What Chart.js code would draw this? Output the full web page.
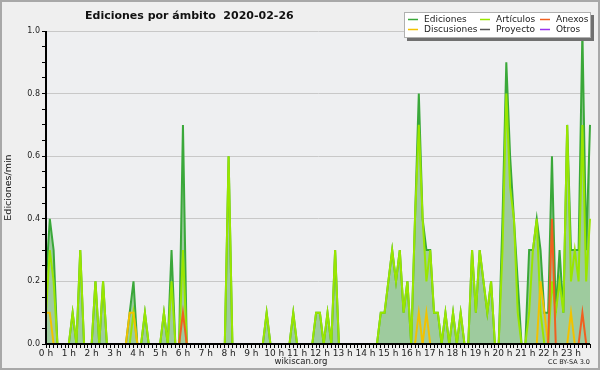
<!DOCTYPE html>
<html>
<head>
<meta charset="utf-8">
<script src="https://cdn.jsdelivr.net/npm/chart.js@4.4.0/dist/chart.umd.min.js"></script>
<style>
  html, body { margin: 0; padding: 0; background: #f0f0f0; }
  #wrap { width: 600px; height: 370px; }
</style>
</head>
<body>
<div id="wrap"><canvas id="chart" width="600" height="370"></canvas></div>
<script>
// one value every 10 minutes, 2 hours per row
const ediciones = [
  0.2, 0.4, 0.3, 0, 0, 0, 0, 0.1, 0, 0.3, 0, 0,
  0, 0.2, 0, 0.2, 0, 0, 0, 0, 0, 0, 0.1, 0.2,
  0, 0, 0.1, 0, 0, 0, 0, 0.1, 0, 0.3, 0, 0,
  0.7, 0, 0, 0, 0, 0, 0, 0, 0, 0, 0, 0,
  0.6, 0, 0, 0, 0, 0, 0, 0, 0, 0, 0.1, 0,
  0, 0, 0, 0, 0, 0.1, 0, 0, 0, 0, 0, 0.1,
  0.1, 0, 0.1, 0, 0.3, 0, 0, 0, 0, 0, 0, 0,
  0, 0, 0, 0, 0.1, 0.1, 0.2, 0.3, 0.2, 0.3, 0.1, 0.2,
  0, 0.4, 0.8, 0.4, 0.3, 0.3, 0.1, 0.1, 0, 0.1, 0, 0.1,
  0, 0.1, 0, 0, 0.3, 0.1, 0.3, 0.2, 0.1, 0.2, 0, 0,
  0.4, 0.9, 0.6, 0.4, 0.2, 0, 0, 0.3, 0.3, 0.4, 0.3, 0.1,
  0.1, 0.6, 0.1, 0.3, 0.1, 0.7, 0.3, 0.3, 0.3, 1.0, 0.3, 0.7
];
const articulos = [
  0.1, 0.3, 0.2, 0, 0, 0, 0, 0.1, 0, 0.3, 0, 0,
  0, 0.2, 0, 0.2, 0, 0, 0, 0, 0, 0, 0, 0.1,
  0, 0, 0.1, 0, 0, 0, 0, 0.1, 0, 0.2, 0, 0,
  0.3, 0, 0, 0, 0, 0, 0, 0, 0, 0, 0, 0,
  0.6, 0, 0, 0, 0, 0, 0, 0, 0, 0, 0.1, 0,
  0, 0, 0, 0, 0, 0.1, 0, 0, 0, 0, 0, 0.1,
  0.1, 0, 0.1, 0, 0.3, 0, 0, 0, 0, 0, 0, 0,
  0, 0, 0, 0, 0.1, 0.1, 0.2, 0.3, 0.2, 0.3, 0.1, 0.2,
  0, 0.4, 0.7, 0.4, 0.2, 0.3, 0.1, 0.1, 0, 0.1, 0, 0.1,
  0, 0.1, 0, 0, 0.3, 0.1, 0.3, 0.2, 0.1, 0.2, 0, 0,
  0.3, 0.8, 0.5, 0.4, 0.1, 0, 0, 0.1, 0.3, 0.4, 0.1, 0,
  0, 0.2, 0.1, 0.2, 0.1, 0.7, 0.2, 0.3, 0.2, 0.7, 0.2, 0.4
];
const discusiones = [
  0.1, 0.1, 0, 0, 0, 0, 0, 0, 0, 0, 0, 0,
  0, 0, 0, 0, 0, 0, 0, 0, 0, 0, 0.1, 0.1,
  0, 0, 0, 0, 0, 0, 0, 0, 0, 0, 0, 0,
  0, 0, 0, 0, 0, 0, 0, 0, 0, 0, 0, 0,
  0, 0, 0, 0, 0, 0, 0, 0, 0, 0, 0, 0,
  0, 0, 0, 0, 0, 0, 0, 0, 0, 0, 0, 0,
  0, 0, 0, 0, 0, 0, 0, 0, 0, 0, 0, 0,
  0, 0, 0, 0, 0, 0, 0, 0, 0, 0, 0, 0,
  0, 0, 0.1, 0, 0.1, 0, 0, 0, 0, 0, 0, 0,
  0, 0, 0, 0, 0, 0, 0, 0, 0, 0, 0, 0,
  0, 0, 0, 0, 0, 0, 0, 0, 0, 0, 0.2, 0.1,
  0, 0, 0, 0, 0, 0, 0.1, 0, 0, 0, 0, 0
];
const anexos = [
  0, 0, 0, 0, 0, 0, 0, 0, 0, 0, 0, 0,
  0, 0, 0, 0, 0, 0, 0, 0, 0, 0, 0, 0,
  0, 0, 0, 0, 0, 0, 0, 0, 0, 0, 0, 0,
  0.1, 0, 0, 0, 0, 0, 0, 0, 0, 0, 0, 0,
  0, 0, 0, 0, 0, 0, 0, 0, 0, 0, 0, 0,
  0, 0, 0, 0, 0, 0, 0, 0, 0, 0, 0, 0,
  0, 0, 0, 0, 0, 0, 0, 0, 0, 0, 0, 0,
  0, 0, 0, 0, 0, 0, 0, 0, 0, 0, 0, 0,
  0, 0, 0, 0, 0, 0, 0, 0, 0, 0, 0, 0,
  0, 0, 0, 0, 0, 0, 0, 0, 0, 0, 0, 0,
  0, 0, 0, 0, 0, 0, 0, 0, 0, 0, 0, 0,
  0, 0.4, 0, 0, 0, 0, 0, 0, 0, 0.1, 0, 0
];
// Proyecto and Otros stay at zero all day
const proyecto = new Array(144).fill(0);
const otros = new Array(144).fill(0);

const hourLabels = ['0 h', '1 h', '2 h', '3 h', '4 h', '5 h', '6 h', '7 h', '8 h', '9 h', '10 h', '11 h',
  '12 h', '13 h', '14 h', '15 h', '16 h', '17 h', '18 h', '19 h', '20 h', '21 h', '22 h', '23 h'];
const yLabels = ['0.0', '0.2', '0.4', '0.6', '0.8', '1.0'];

// 10 minute slots
const slots = [];
for (let h = 0; h < 24; h++) {
  for (let m = 0; m < 60; m += 10) slots.push(h + ':' + (m < 10 ? '0' : '') + m);
}

const FONT = 'DejaVu Sans';
const legendRows = [['Ediciones', 'Artículos', 'Anexos'], ['Discusiones', 'Proyecto', 'Otros']];

const decor = {
  id: 'decor',
  beforeDraw(chart) {
    const { ctx, chartArea: a } = chart;
    ctx.save();
    ctx.fillStyle = '#efefef';
    ctx.fillRect(0, 0, chart.width, chart.height);
    ctx.fillStyle = '#eeeff1';
    ctx.fillRect(a.left, a.top, a.right - a.left, a.bottom - a.top);
    ctx.restore();
  },
  afterDatasetsDraw(chart) {
    // axis lines above the lines at zero
    const { ctx, chartArea: a } = chart;
    ctx.save();
    ctx.strokeStyle = '#000';
    ctx.lineWidth = 2;
    ctx.beginPath();
    ctx.moveTo(a.left, a.top);
    ctx.lineTo(a.left, a.bottom);
    ctx.lineTo(a.right, a.bottom);
    ctx.stroke();
    ctx.restore();
  },
  afterDraw(chart) {
    const { ctx } = chart;
    ctx.save();
    // frame
    ctx.strokeStyle = '#a8a8a8';
    ctx.lineWidth = 2;
    ctx.strokeRect(1, 1, chart.width - 2, chart.height - 2);

    // title
    ctx.fillStyle = '#111';
    ctx.font = 'bold 11px ' + FONT;
    ctx.textAlign = 'left';
    ctx.textBaseline = 'middle';
    ctx.fillText('Ediciones por ámbito  2020-02-26', 85, 16);

    // legend box with shadow
    ctx.fillStyle = '#707070';
    ctx.fillRect(407, 15, 187, 26);
    ctx.fillStyle = '#fff';
    ctx.fillRect(404, 12, 187, 26);
    ctx.strokeStyle = '#b0b0b0';
    ctx.lineWidth = 1;
    ctx.strokeRect(404.5, 12.5, 186, 25);

    const colX = [408, 480, 540];
    const rowY = [19.5, 29.5];
    ctx.font = '9px ' + FONT;
    ctx.textBaseline = 'middle';
    legendRows.forEach((row, r) => {
      row.forEach((name, c) => {
        const ds = chart.data.datasets.find(d => d.label === name);
        ctx.strokeStyle = ds.borderColor;
        ctx.lineWidth = 1.5;
        ctx.beginPath();
        ctx.moveTo(colX[c], rowY[r]);
        ctx.lineTo(colX[c] + 10, rowY[r]);
        ctx.stroke();
        ctx.fillStyle = '#222';
        ctx.fillText(name, colX[c] + 16, rowY[r]);
      });
    });

    // footer
    ctx.fillStyle = '#222';
    ctx.font = '8.5px ' + FONT;
    ctx.textAlign = 'center';
    ctx.fillText('wikiscan.org', 301, 361.5);
    ctx.font = '6.5px ' + FONT;
    ctx.textAlign = 'right';
    ctx.fillText('CC BY-SA 3.0', 590, 362.5);
    ctx.restore();
  }
};

const line = (label, data, color, order, extra) => Object.assign({
  label, data, borderColor: color, backgroundColor: color, fill: false, order,
  borderWidth: 2, pointRadius: 0, tension: 0
}, extra || {});

new Chart(document.getElementById('chart'), {
  type: 'line',
  data: {
    labels: slots,
    datasets: [
      line('Ediciones', ediciones, '#3aa83a', 10, { backgroundColor: '#9ecb9e', fill: 'origin' }),
      line('Artículos', articulos, '#99e600', 5),
      line('Discusiones', discusiones, '#f2c200', 4),
      line('Anexos', anexos, '#f06020', 3),
      line('Proyecto', proyecto, '#555555', 2),
      line('Otros', otros, '#9933ee', 1)
    ]
  },
  options: {
    responsive: false,
    animation: false,
    events: [],
    layout: { padding: { top: 31, right: 10, bottom: 0, left: 0 } },
    plugins: { legend: { display: false }, tooltip: { enabled: false } },
    scales: {
      x: {
        afterFit: s => { s.height = 26; },
        border: { color: '#000' },
        grid: { drawOnChartArea: false, tickLength: 4, tickColor: '#000' },
        ticks: {
          autoSkip: false, maxRotation: 0, minRotation: 0, padding: 0,
          color: '#222', font: { family: FONT, size: 9 },
          callback: (v, i) => (i % 6 === 0 ? hourLabels[i / 6] : '')
        }
      },
      y: {
        min: 0, max: 1,
        afterFit: s => { s.width = 46; },
        border: { color: '#000' },
        grid: {
          tickLength: 4, tickColor: '#000',
          color: c => {
            const k = Math.round(c.tick.value * 20);
            return (k % 4 === 0 && k > 0) ? '#c8c8c8' : 'rgba(0,0,0,0)';
          }
        },
        ticks: {
          stepSize: 0.05, padding: 2, color: '#222', font: { family: FONT, size: 8 },
          callback: v => {
            const k = Math.round(v * 20);
            return k % 4 === 0 ? yLabels[k / 4] : '';
          }
        },
        title: { display: true, text: 'Ediciones/min', color: '#111', padding: { top: 3, bottom: 0 }, font: { family: FONT, size: 9.5 } }
      }
    }
  },
  plugins: [decor]
});
</script>
</body>
</html>
